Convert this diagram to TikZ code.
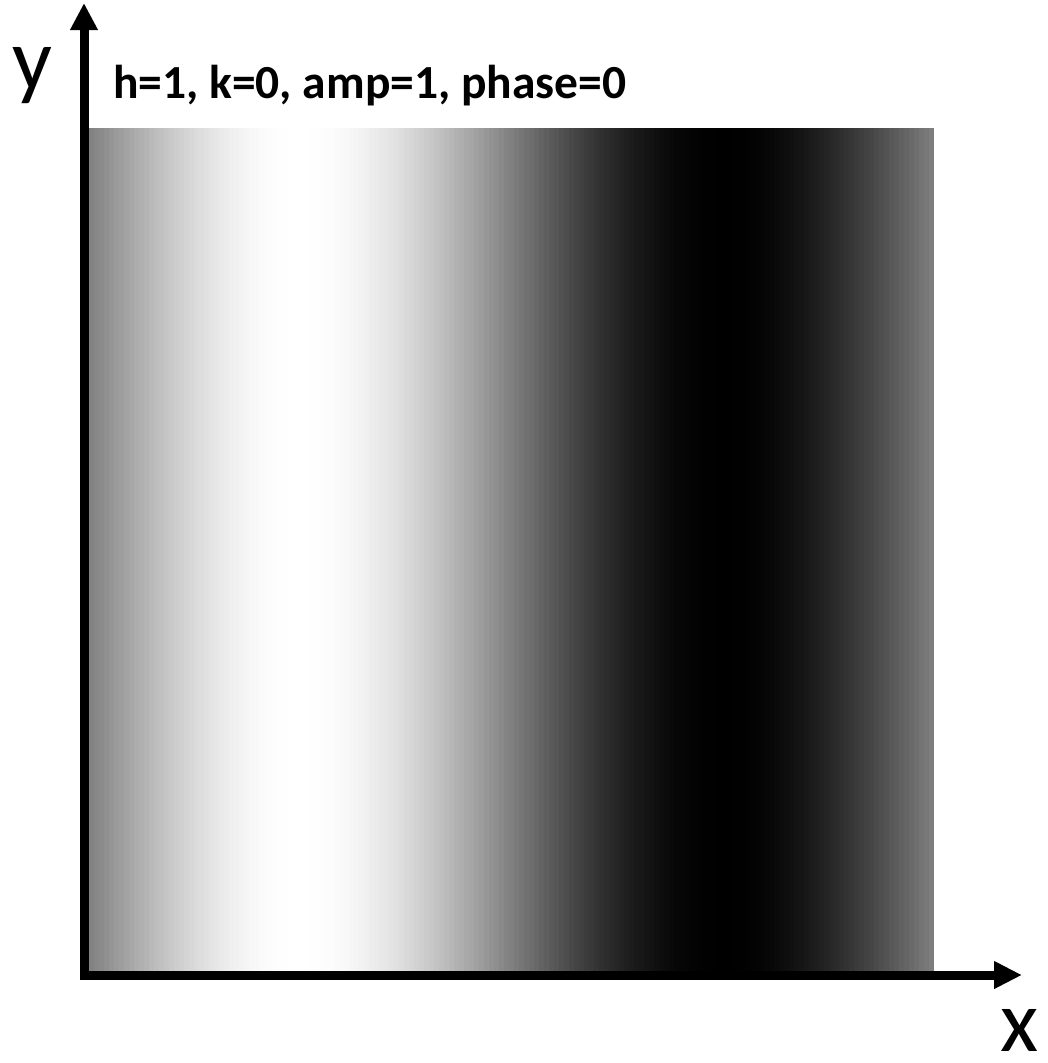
\documentclass[tikz,border=0pt]{standalone}
\usepackage{fontspec}
\setmainfont{Carlito}
\usetikzlibrary{arrows.meta}
\begin{document}
\begin{tikzpicture}[x=1pt,y=-1pt,
  axisline/.style={line width=9pt},
  titletext/.style={anchor=base west,inner sep=0pt,font=\fontsize{47.5}{52}\selectfont\bfseries},
  axislabel/.style={anchor=base west,inner sep=0pt,font=\fontsize{88}{94}\selectfont}]
\useasboundingbox (0,0) rectangle (1048,1063);
% sinusoidal grating
\foreach \i in {0,...,168} {
  \pgfmathsetmacro\ang{2.130178*(\i+0.5)}
  \pgfmathsetmacro\g{50+50*sin(\ang)}
  \pgfmathsetmacro\xa{89+5*\i}
  \pgfmathsetmacro\xb{min(89+5*\i+5.6,934)}
  \fill[white!\g!black] (\xa,128) rectangle (\xb,971);
}
% axes
\coordinate (ybot) at (84,979);
\coordinate (ytop) at (84,3);
\coordinate (xleft) at (80,975);
\coordinate (xright) at (1022,975);
\draw[axisline,-{Triangle[width=26pt,length=27pt]}] (ybot) -- (ytop);
\draw[axisline,-{Triangle[width=26pt,length=28pt]}] (xleft) -- (xright);
% labels
\node[axislabel] (ylab) at (12,89) {y};
\node[axislabel] (xlab) at (1000,1051) {x};
\node[titletext] (title) at (113,98) {h=1, k=0, amp=1, phase=0};
\end{tikzpicture}
\end{document}
